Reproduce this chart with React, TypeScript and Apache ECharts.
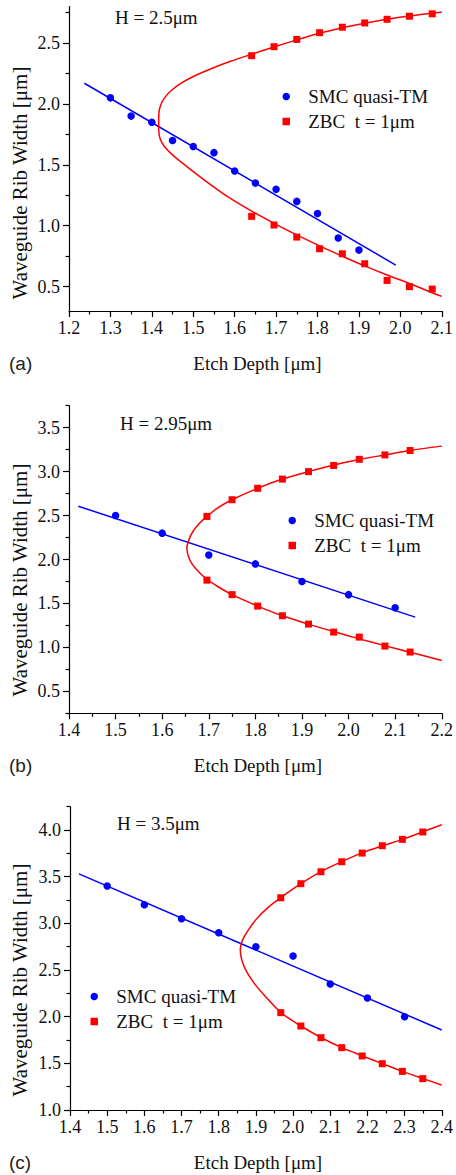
import React, { useEffect, useRef } from "react";
import * as echarts from "echarts";

const SERIF = "'Liberation Serif', 'Times New Roman', serif";
const SANS = "'Liberation Sans', Arial, sans-serif";
const BLUE = "#0000ff";
const RED = "#ff0000";
const SMC_NAME = "SMC quasi-TM";
const ZBC_NAME = "ZBC  t = 1μm";

// ---------- panel (a): H = 2.5 µm ----------
const aSmcX = [1.30, 1.35, 1.40, 1.45, 1.50, 1.55, 1.60, 1.65, 1.70, 1.75, 1.80, 1.85, 1.90];
const aSmcY = [2.05, 1.90, 1.85, 1.70, 1.65, 1.60, 1.45, 1.35, 1.30, 1.20, 1.10, 0.90, 0.80];
const aSmcFitX = [1.237, 1.989];
const aSmcFitY = [2.17, 0.677];
const aZbcX = [1.641, 1.695, 1.75, 1.805, 1.86, 1.914, 1.968, 2.022, 2.077];
const aZbcUpperY = [2.396, 2.47, 2.53, 2.585, 2.63, 2.665, 2.695, 2.72, 2.74];
const aZbcLowerY = [1.077, 1.006, 0.907, 0.811, 0.77, 0.688, 0.551, 0.50, 0.48];
const aCurveX = [2.10, 2.077, 2.022, 1.968, 1.914, 1.86, 1.805, 1.75, 1.695, 1.641, 1.59, 1.54, 1.50, 1.468, 1.447, 1.433, 1.424, 1.419, 1.417, 1.4165, 1.417, 1.419, 1.424, 1.433, 1.447, 1.468, 1.50, 1.545, 1.585, 1.641, 1.695, 1.75, 1.805, 1.86, 1.914, 1.968, 2.022, 2.077, 2.10];
const aCurveY = [2.753, 2.745, 2.722, 2.695, 2.663, 2.625, 2.58, 2.526, 2.468, 2.408, 2.35, 2.285, 2.225, 2.165, 2.11, 2.06, 2.012, 1.965, 1.92, 1.844, 1.77, 1.725, 1.685, 1.64, 1.59, 1.53, 1.445, 1.33, 1.235, 1.12, 1.02, 0.925, 0.835, 0.75, 0.67, 0.595, 0.526, 0.45, 0.42];
const aXTicks = [1.2, 1.3, 1.4, 1.5, 1.6, 1.7, 1.8, 1.9, 2.0, 2.1];
const aYTicks = [0.5, 1.0, 1.5, 2.0, 2.5];

// ---------- panel (b): H = 2.95 µm ----------
const bSmcX = [1.5, 1.6, 1.7, 1.8, 1.9, 2.0, 2.1];
const bSmcY = [2.50, 2.30, 2.05, 1.95, 1.75, 1.60, 1.45];
const bSmcFitX = [1.42, 2.143];
const bSmcFitY = [2.606, 1.344];
const bZbcX = [1.696, 1.75, 1.805, 1.858, 1.914, 1.968, 2.023, 2.078, 2.132];
const bZbcUpperY = [2.49, 2.68, 2.81, 2.915, 3.00, 3.07, 3.14, 3.19, 3.24];
const bZbcLowerY = [1.765, 1.60, 1.47, 1.36, 1.265, 1.174, 1.117, 1.015, 0.947];
const bCurveX = [2.2, 2.132, 2.078, 2.023, 1.968, 1.914, 1.858, 1.805, 1.75, 1.72, 1.696, 1.678, 1.665, 1.657, 1.653, 1.656, 1.664, 1.678, 1.696, 1.72, 1.75, 1.805, 1.858, 1.914, 1.968, 2.023, 2.078, 2.132, 2.2];
const bCurveY = [3.29, 3.24, 3.19, 3.138, 3.075, 3.0, 2.915, 2.81, 2.68, 2.59, 2.49, 2.40, 2.31, 2.22, 2.13, 2.04, 1.95, 1.86, 1.775, 1.69, 1.60, 1.47, 1.36, 1.265, 1.18, 1.097, 1.02, 0.945, 0.85];
const bXTicks = [1.4, 1.5, 1.6, 1.7, 1.8, 1.9, 2.0, 2.1, 2.2];
const bYTicks = [0.5, 1.0, 1.5, 2.0, 2.5, 3.0, 3.5];

// ---------- panel (c): H = 3.5 µm ----------
const cSmcX = [1.5, 1.6, 1.7, 1.8, 1.9, 2.0, 2.1, 2.2, 2.3];
const cSmcY = [3.40, 3.20, 3.05, 2.90, 2.75, 2.65, 2.35, 2.20, 2.00];
const cSmcFitX = [1.424, 2.4];
const cSmcFitY = [3.53, 1.857];
const cZbcX = [1.967, 2.021, 2.075, 2.131, 2.186, 2.24, 2.294, 2.349];
const cZbcUpperY = [3.274, 3.425, 3.553, 3.66, 3.753, 3.832, 3.90, 3.979];
const cZbcLowerY = [2.043, 1.90, 1.775, 1.668, 1.579, 1.496, 1.414, 1.336];
const cCurveX = [2.4, 2.349, 2.294, 2.24, 2.186, 2.131, 2.075, 2.021, 1.967, 1.93, 1.9, 1.878, 1.864, 1.858, 1.862, 1.874, 1.895, 1.925, 1.967, 2.021, 2.075, 2.131, 2.186, 2.24, 2.294, 2.349, 2.4];
const cCurveY = [4.057, 3.98, 3.90, 3.83, 3.755, 3.662, 3.555, 3.425, 3.275, 3.16, 3.04, 2.92, 2.82, 2.72, 2.61, 2.49, 2.36, 2.22, 2.045, 1.90, 1.777, 1.668, 1.58, 1.497, 1.414, 1.337, 1.267];
const cXTicks = [1.4, 1.5, 1.6, 1.7, 1.8, 1.9, 2.0, 2.1, 2.2, 2.3, 2.4];
const cYTicks = [1.0, 1.5, 2.0, 2.5, 3.0, 3.5, 4.0];

const panelLabels = ["(a)", "(b)", "(c)"];
const heightLabels = ["H = 2.5μm", "H = 2.95μm", "H = 3.5μm"];
const xTitle = "Etch Depth [μm]";
const yTitle = "Waveguide Rib Width [μm]";

const zip = (xs: number[], ys: number[]) => xs.map((x, i) => [x, ys[i]]);
const minorsOf = (ticks: number[], step: number, lo: number, hi: number) => {
  const out: number[] = [];
  for (let i = 0; i < ticks.length; i++) {
    const a = +(ticks[i] - step / 2).toFixed(4);
    const b = +(ticks[i] + step / 2).toFixed(4);
    if (a >= lo - 1e-9 && a <= hi + 1e-9 && out.indexOf(a) < 0) out.push(a);
    if (b >= lo - 1e-9 && b <= hi + 1e-9 && out.indexOf(b) < 0) out.push(b);
  }
  return out;
};

const panels = [
  {
    smc: zip(aSmcX, aSmcY), fit: zip(aSmcFitX, aSmcFitY),
    zbc: zip(aZbcX, aZbcUpperY).concat(zip(aZbcX, aZbcLowerY)), curve: zip(aCurveX, aCurveY),
    xTicks: aXTicks, yTicks: aYTicks, xMin: 1.2, xMax: 2.1, yMin: 0.3, yMax: 2.8,
    grid: { left: 69, top: 6.5, width: 376, height: 304.5 },
    legend: { left: 282.5, top: 87 }, hLabel: { x: 115, y: 17 }, yTitleY: 183, bottomY: 363,
  },
  {
    smc: zip(bSmcX, bSmcY), fit: zip(bSmcFitX, bSmcFitY),
    zbc: zip(bZbcX, bZbcUpperY).concat(zip(bZbcX, bZbcLowerY)), curve: zip(bCurveX, bCurveY),
    xTicks: bXTicks, yTicks: bYTicks, xMin: 1.4, xMax: 2.2, yMin: 0.25, yMax: 3.75,
    grid: { left: 69, top: 405.7, width: 377, height: 307.6 },
    legend: { left: 288.5, top: 511 }, hLabel: { x: 120, y: 423 }, yTitleY: 580, bottomY: 765,
  },
  {
    smc: zip(cSmcX, cSmcY), fit: zip(cSmcFitX, cSmcFitY),
    zbc: zip(cZbcX, cZbcUpperY).concat(zip(cZbcX, cZbcLowerY)), curve: zip(cCurveX, cCurveY),
    xTicks: cXTicks, yTicks: cYTicks, xMin: 1.4, xMax: 2.4, yMin: 1.0, yMax: 4.25,
    grid: { left: 70, top: 806.7, width: 375, height: 303.3 },
    legend: { left: 90.5, top: 987 }, hLabel: { x: 117, y: 823 }, yTitleY: 980, bottomY: 1162,
  },
];

function buildOption() {
  const grid: any[] = [];
  const xAxis: any[] = [];
  const yAxis: any[] = [];
  const series: any[] = [];
  const legend: any[] = [];
  const graphic: any[] = [];
  const lineStyle = { color: "#000", width: 1.2 };
  const labelStyle = { fontFamily: SERIF, fontSize: 18, fontWeight: "normal", color: "#111" };

  panels.forEach((p, i) => {
    grid.push({ ...p.grid, containLabel: false });
    const xMinor = minorsOf(p.xTicks, 0.1, p.xMin, p.xMax);
    const yMinor = minorsOf(p.yTicks, 0.5, p.yMin, p.yMax);
    xAxis.push({
      type: "value", gridIndex: i, min: p.xMin, max: p.xMax, position: "bottom",
      axisLine: { show: true, onZero: false, lineStyle },
      axisTick: { show: true, inside: false, length: 6, customValues: p.xTicks, lineStyle },
      axisLabel: { show: true, customValues: p.xTicks, margin: 8, formatter: (v: number) => v.toFixed(1), ...labelStyle },
      splitLine: { show: false },
    });
    xAxis.push({
      type: "value", gridIndex: i, min: p.xMin, max: p.xMax, position: "bottom", offset: 0,
      axisLine: { show: false, onZero: false },
      axisTick: { show: true, inside: false, length: 3.5, customValues: xMinor, lineStyle },
      axisLabel: { show: false },
      splitLine: { show: false },
    });
    yAxis.push({
      type: "value", gridIndex: i, min: p.yMin, max: p.yMax, position: "left",
      axisLine: { show: true, onZero: false, lineStyle },
      axisTick: { show: true, inside: false, length: 6, customValues: p.yTicks, lineStyle },
      axisLabel: { show: true, customValues: p.yTicks, margin: 9, formatter: (v: number) => v.toFixed(1), ...labelStyle },
      splitLine: { show: false },
    });
    yAxis.push({
      type: "value", gridIndex: i, min: p.yMin, max: p.yMax, position: "left", offset: 0,
      axisLine: { show: false, onZero: false },
      axisTick: { show: true, inside: false, length: 3.5, customValues: yMinor, lineStyle },
      axisLabel: { show: false },
      splitLine: { show: false },
    });
    const xi = i * 2;
    const yi = i * 2;
    series.push({
      type: "line", name: "SMC fit " + i, xAxisIndex: xi, yAxisIndex: yi, data: p.fit,
      showSymbol: false, symbol: "none", lineStyle: { color: BLUE, width: 1.5 }, z: 2, silent: true,
    });
    series.push({
      type: "line", name: "ZBC fit " + i, xAxisIndex: xi, yAxisIndex: yi, data: p.curve,
      showSymbol: false, symbol: "none", smooth: 0.3, lineStyle: { color: RED, width: 1.5 }, z: 2, silent: true,
    });
    series.push({
      type: "scatter", name: SMC_NAME, xAxisIndex: xi, yAxisIndex: yi, data: p.smc,
      symbol: "circle", symbolSize: 7.5, itemStyle: { color: BLUE, opacity: 1 }, z: 5,
    });
    series.push({
      type: "scatter", name: ZBC_NAME, xAxisIndex: xi, yAxisIndex: yi, data: p.zbc,
      symbol: "rect", symbolSize: 7, itemStyle: { color: RED, opacity: 1 }, z: 5,
    });
    legend.push({
      data: [
        { name: SMC_NAME, icon: "circle" },
        { name: ZBC_NAME, icon: "path://M0,0L10,0L10,10L0,10Z" },
      ],
      orient: "vertical", left: p.legend.left, top: p.legend.top,
      itemWidth: 34, itemHeight: 7.5, itemGap: 6, selectedMode: false, padding: 0, symbolKeepAspect: true,
      textStyle: { fontFamily: SERIF, fontSize: 19, fontWeight: "normal", color: "#111" },
    });
    graphic.push({
      type: "text", x: p.hLabel.x, y: p.hLabel.y,
      style: { text: heightLabels[i], font: `normal 19px ${SERIF}`, fill: "#111", textVerticalAlign: "middle", verticalAlign: "middle" },
    });
    graphic.push({
      type: "text", x: 20, y: p.yTitleY, rotation: Math.PI / 2,
      style: { text: yTitle, font: `normal 21px ${SERIF}`, fill: "#111", align: "center", textAlign: "center", verticalAlign: "middle", textVerticalAlign: "middle" },
    });
    graphic.push({
      type: "text", x: p.grid.left + p.grid.width / 2 + 0.5, y: p.bottomY,
      style: { text: xTitle, font: `normal 19px ${SERIF}`, fill: "#111", align: "center", textAlign: "center", verticalAlign: "middle", textVerticalAlign: "middle" },
    });
    graphic.push({
      type: "text", x: 9, y: p.bottomY,
      style: { text: panelLabels[i], font: `normal 19px ${SANS}`, fill: "#222", verticalAlign: "middle", textVerticalAlign: "middle" },
    });
  });

  return { animation: false, backgroundColor: "#fff", grid, xAxis, yAxis, series, legend, graphic };
}

export default function App() {
  const ref = useRef<HTMLDivElement>(null);
  useEffect(() => {
    if (!ref.current) return;
    const chart = echarts.init(ref.current, undefined, { renderer: "svg" });
    chart.setOption(buildOption() as any);
    return () => chart.dispose();
  }, []);
  return <div ref={ref} style={{ position: "absolute", left: 0, top: 0, width: 456, height: 1175 }} />;
}
